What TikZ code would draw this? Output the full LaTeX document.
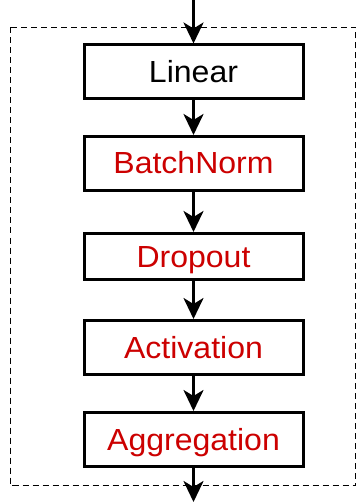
\documentclass[tikz,border=0pt]{standalone}
\usepackage{fontspec}
\setmainfont{Liberation Sans}[FakeStretch=1.05]
\usetikzlibrary{arrows.meta}
\definecolor{layerred}{HTML}{CC0000}
\begin{document}
\begin{tikzpicture}[x=1pt,y=-1pt,
  layer/.style={draw=black, line width=3pt, fill=white, minimum width=219pt,
    inner sep=0pt, text height=21pt, text depth=0pt,
    font=\fontsize{30.5}{34}\selectfont},
  flow/.style={line width=3pt, -{Stealth[length=21pt,width=20pt,inset=6pt]}}]
  \useasboundingbox (0,0) rectangle (358,502);
  % dashed frame around the block
  \draw[line width=1.8pt, dash pattern=on 6pt off 4pt] (10.5,27.5) rectangle (355.5,485.5);
  % layers
  \node[layer, minimum height=54pt] (lin) at (193.5,72) {Linear};
  \node[layer, minimum height=54pt, text=layerred] (bn) at (193.5,163.5) {BatchNorm};
  \node[layer, minimum height=46pt, text=layerred] (drop) at (193.5,256.5) {Dropout};
  \node[layer, minimum height=54pt, text=layerred] (act) at (193.5,347.5) {Activation};
  \node[layer, minimum height=54pt, text=layerred] (agg) at (193.5,439.5) {Aggregation};
  \coordinate (in) at (193.5,0);
  \coordinate (out) at (193.5,502);
  % data flow
  \draw[flow] (in) -- (lin.north);
  \draw[flow] (lin) -- (bn);
  \draw[flow] (bn) -- (drop);
  \draw[flow] (drop) -- (act);
  \draw[flow] (act) -- (agg);
  \draw[flow] (agg) -- (out);
\end{tikzpicture}
\end{document}
